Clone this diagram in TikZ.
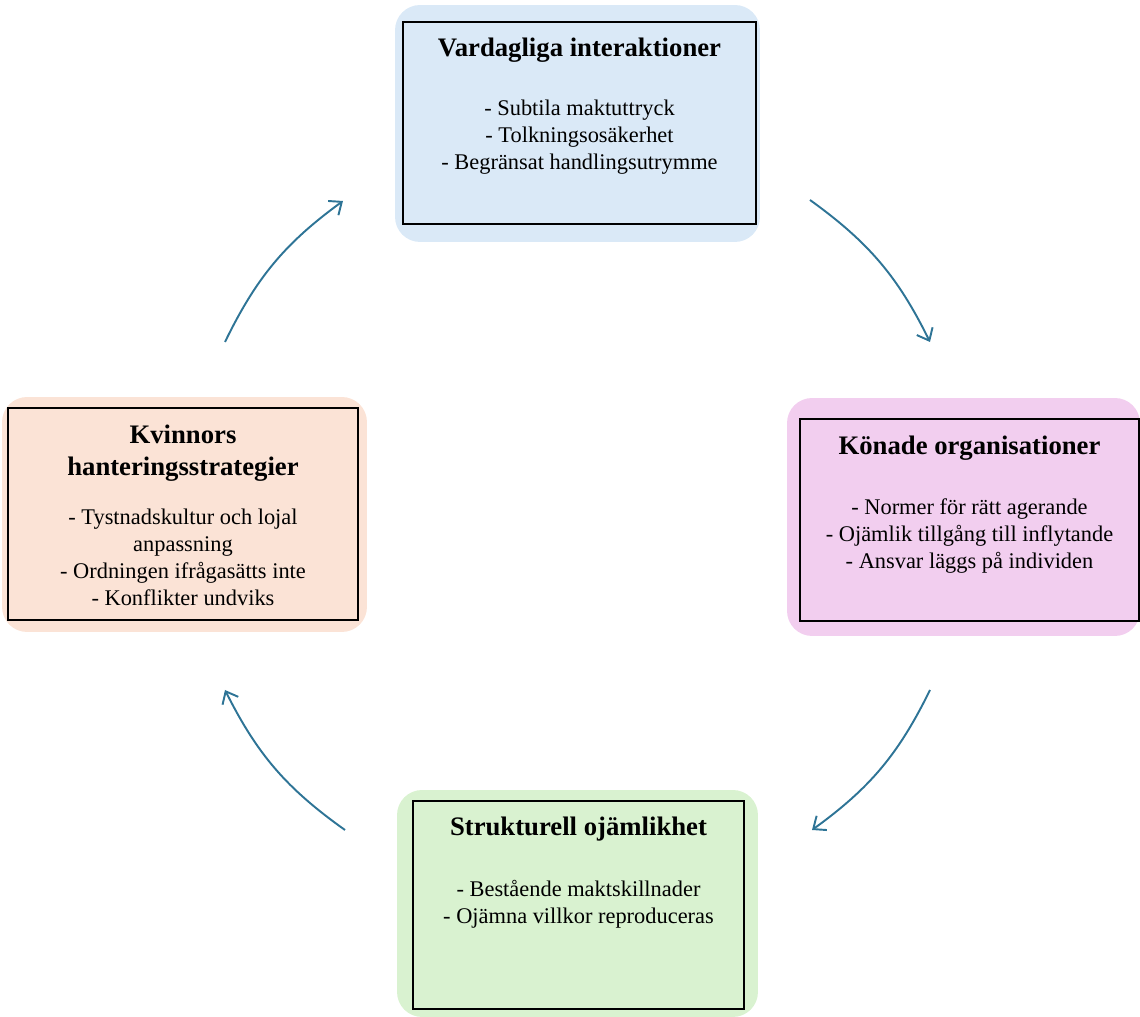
\documentclass[tikz,border=0pt]{standalone}
\usepackage{fontspec}
\setmainfont{Liberation Serif}
\usetikzlibrary{arrows.meta,positioning}

\definecolor{arrowblue}{RGB}{46,116,150}
\definecolor{vardblue}{HTML}{DAE9F7}
\definecolor{konpink}{HTML}{F2CEEF}
\definecolor{kvinnpeach}{HTML}{FBE3D6}
\definecolor{struktgreen}{HTML}{D9F2D0}

\newcommand{\titlefont}{\fontsize{15.2}{18.2}\selectfont\bfseries}
\newcommand{\itemfont}{\fontsize{12.75}{15.4}\selectfont}

\begin{document}
\begin{tikzpicture}[x=0.02cm,y=0.02cm,>={Straight Barb[length=6pt,width=10pt]},
  back node/.style={rectangle,rounded corners=0.5cm,inner sep=0pt},
  box node/.style={rectangle,draw=black,line width=0.9pt,inner sep=0pt},
  title node/.style={font=\titlefont,align=center,inner sep=0pt},
  item node/.style={font=\itemfont,align=center,inner sep=0pt},
  cycle arrow/.style={->,draw=arrowblue,line width=1.1pt,bend left=14}]

  \useasboundingbox (0,0) rectangle (1140,1017);

  % top
  \node[back node,fill=vardblue,minimum width=7.3cm,minimum height=4.74cm] (vardbg) at (577.5,893.5) {};
  \node[box node,fill=vardblue,minimum width=7.06cm,minimum height=4.04cm] (vard) at (579.5,894) {};
  \node[title node] (vardt) [below=0.32cm of vard.north] {Vardagliga interaktioner};
  \node[item node] (vardi) [below=0.74cm of vardt] {- Subtila maktuttryck\\- Tolkningsosäkerhet\\- Begränsat handlingsutrymme};

  % right
  \node[back node,fill=konpink,minimum width=7.06cm,minimum height=4.76cm] (konbg) at (963.5,500) {};
  \node[box node,fill=konpink,minimum width=6.78cm,minimum height=4.04cm] (kon) at (969.5,497) {};
  \node[title node] (kont) [below=0.34cm of kon.north] {Könade organisationer};
  \node[item node] (koni) [below=0.76cm of kont] {- Normer för rätt agerande\\- Ojämlik tillgång till inflytande\\- Ansvar läggs på individen};

  % bottom
  \node[back node,fill=struktgreen,minimum width=7.22cm,minimum height=4.54cm] (struktbg) at (577.5,113.5) {};
  \node[box node,fill=struktgreen,minimum width=6.62cm,minimum height=4.16cm] (strukt) at (578.5,112) {};
  \node[title node] (struktt) [below=0.32cm of strukt.north] {Strukturell ojämlikhet};
  \node[item node] (strukti) [below=0.78cm of struktt] {- Bestående maktskillnader\\- Ojämna villkor reproduceras};

  % left
  \node[back node,fill=kvinnpeach,minimum width=7.3cm,minimum height=4.7cm] (kvinnbg) at (184.5,502.5) {};
  \node[box node,fill=kvinnpeach,minimum width=7.0cm,minimum height=4.24cm] (kvinn) at (183,503) {};
  \node[title node] (kvinnt) [below=0.34cm of kvinn.north] {Kvinnors\\hanteringsstrategier};
  \node[item node] (kvinni) [below=0.54cm of kvinnt] {- Tystnadskultur och lojal\\anpassning\\- Ordningen ifrågasätts inte\\- Konflikter undviks};

  % arrow ends
  \coordinate (a1s) at (225,675);
  \coordinate (a1e) at (343,816);
  \coordinate (a2s) at (810,817);
  \coordinate (a2e) at (930,675);
  \coordinate (a3s) at (930,327);
  \coordinate (a3e) at (812,187);
  \coordinate (a4s) at (345,187);
  \coordinate (a4e) at (225,327);

  \path
    (a1s) edge[cycle arrow] (a1e)
    (a2s) edge[cycle arrow] (a2e)
    (a3s) edge[cycle arrow] (a3e)
    (a4s) edge[cycle arrow] (a4e);

\end{tikzpicture}
\end{document}
